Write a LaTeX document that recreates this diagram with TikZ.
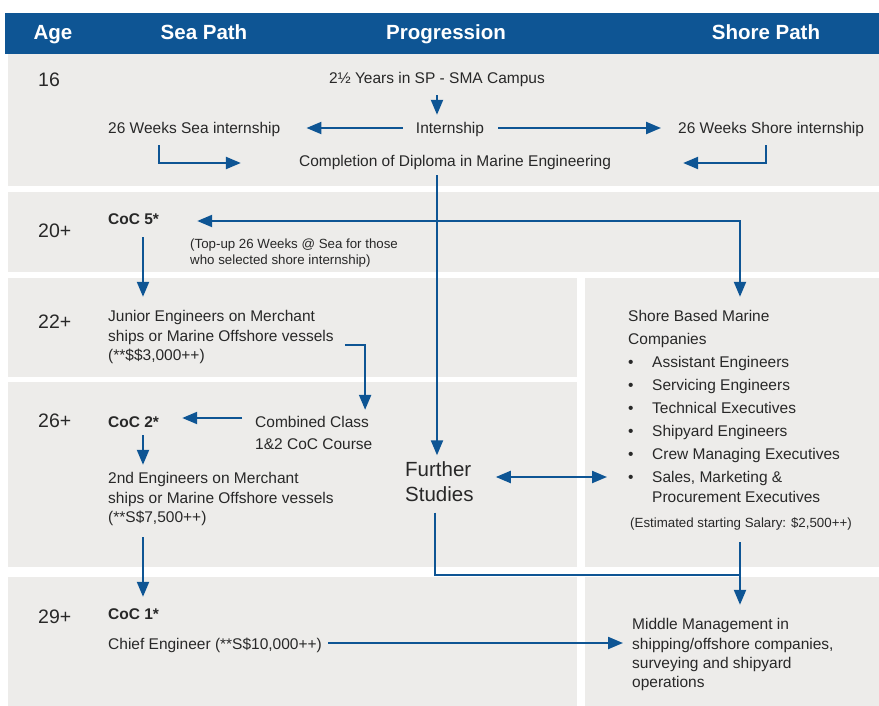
\documentclass[tikz,border=0pt]{standalone}
\usepackage{fontspec}
\setmainfont{Liberation Sans}
\usetikzlibrary{arrows.meta,calc}
\definecolor{hblue}{RGB}{14,85,148}
\definecolor{panelgray}{RGB}{237,236,234}
\definecolor{ink}{RGB}{40,40,40}
\begin{document}
\begin{tikzpicture}[x=1pt,y=-1pt,
  txt/.style={font=\fontsize{15.5}{20}\selectfont, text=ink, inner sep=0pt, anchor=base west, text height=11pt, text depth=3.5pt},
  ctr/.style={txt, anchor=base},
  bld/.style={txt, font=\fontsize{15.5}{20}\selectfont\bfseries},
  sm/.style={txt, font=\fontsize{13.3}{16}\selectfont, text height=9.5pt, text depth=3pt},
  age/.style={font=\fontsize{19.5}{22}\selectfont, text=ink, inner sep=0pt, anchor=base west},
  hdr/.style={font=\fontsize{20.5}{24}\selectfont\bfseries, text=white, inner sep=0pt, anchor=base},
  panel/.style={fill=panelgray, draw=none},
  conn/.style={draw=hblue, line width=2.2pt},
  arr/.style={conn, -{Triangle[length=15pt,width=12pt]}},
  darr/.style={conn, {Triangle[length=15pt,width=12pt]}-{Triangle[length=15pt,width=12pt]}}
]
\useasboundingbox (0,0) rectangle (879,706);
% header
\fill[hblue] (5,13) rectangle (879,54);
\node[hdr] (hage) at (53,39.5) {Age};
\node[hdr] (hsea) at (204,39.5) {Sea Path};
\node[hdr] (hprog) at (446,39.5) {Progression};
\node[hdr] (hshore) at (766,39.5) {Shore Path};
% panels
\fill[panel] (8,54) rectangle (879,186);
\fill[panel] (8,192) rectangle (879,272);
\fill[panel] (8,278) rectangle (577,377);
\fill[panel] (8,382) rectangle (577,567);
\fill[panel] (585,278) rectangle (879,567);
\fill[panel] (8,577) rectangle (577,706);
\fill[panel] (585,577) rectangle (879,706);
% ages
\node[age] (a16) at (38,87) {16};
\node[age] (a20) at (38,237) {20+};
\node[age] (a22) at (38,328) {22+};
\node[age] (a26) at (38,427) {26+};
\node[age] (a29) at (38,623) {29+};
% top panel
\node[ctr] (campus) at (437,84) {2½ Years in SP - SMA Campus};
\node[ctr] (intern) at (450,134) {Internship};
\node[txt] (seaint) at (108,134) {26 Weeks Sea internship};
\node[txt] (shoreint) at (678,134) {26 Weeks Shore internship};
\node[ctr] (diploma) at (455,167) {Completion of Diploma in Marine Engineering};
% 20+
\node[bld] (coc5) at (108,225) {CoC 5*};
\node[sm] (topup1) at (190,248) {(Top-up 26 Weeks @ Sea for those};
\node[sm] (topup2) at (190,264) {who selected shore internship)};
% 22+
\node[txt] (jr1) at (108,321) {Junior Engineers on Merchant};
\node[txt] (jr2) at (108,341) {ships or Marine Offshore vessels};
\node[txt] (jr3) at (108,360) {(**\$\$3,000++)};
% 26+
\node[bld] (coc2) at (108,427) {CoC 2*};
\node[txt] (ccc1) at (255,427) {Combined Class};
\node[txt] (ccc2) at (255,449) {1\&2 CoC Course};
\node[txt] (se1) at (108,483) {2nd Engineers on Merchant};
\node[txt] (se2) at (108,503) {ships or Marine Offshore vessels};
\node[txt] (se3) at (108,522) {(**S\$7,500++)};
\node[font=\fontsize{20.5}{25}\selectfont, text=ink, inner sep=0pt, align=left, anchor=west] (further) at (405,481.5) {Further\\Studies};
% shore panel
\node[txt] (sbm1) at (628,321) {Shore Based Marine};
\node[txt] (sbm2) at (628,344) {Companies};
\node[txt] (b1) at (628,367) {•};
\node[txt] (s1) at (652,367) {Assistant Engineers};
\node[txt] (b2) at (628,390) {•};
\node[txt] (s2) at (652,390) {Servicing Engineers};
\node[txt] (b3) at (628,413) {•};
\node[txt] (s3) at (652,413) {Technical Executives};
\node[txt] (b4) at (628,436) {•};
\node[txt] (s4) at (652,436) {Shipyard Engineers};
\node[txt] (b5) at (628,459) {•};
\node[txt] (s5) at (652,459) {Crew Managing Executives};
\node[txt] (b6) at (628,482) {•};
\node[txt] (s6) at (652,482) {Sales, Marketing \&};
\node[txt] (s7) at (652,502) {Procurement Executives};
\node[sm] (est) at (630,527) {(Estimated starting Salary: \$2,500++)};
% 29+
\node[bld] (coc1) at (108,619) {CoC 1*};
\node[txt] (chief) at (108,649) {Chief Engineer (**S\$10,000++)};
\node[txt] (mm1) at (632,629) {Middle Management in};
\node[txt] (mm2) at (632,649) {shipping/offshore companies,};
\node[txt] (mm3) at (632,668) {surveying and shipyard};
\node[txt] (mm4) at (632,687) {operations};
% helper columns
\coordinate (spine) at (437,0);
\coordinate (shorex) at (740,0);
\coordinate (seax) at (143,0);
\coordinate (fx) at (435,0);
\coordinate (merge) at (740,575);
\coordinate (b6m) at ([yshift=5pt]b6.base west);
% connectors
\draw[arr, shorten <=7.5pt, shorten >=8pt] (campus.south) -- (campus.south |- intern.north);
\draw[arr, shorten <=13pt, shorten >=26pt] ([yshift=6pt]intern.base west) -- ([yshift=6pt]seaint.base east);
\draw[arr, shorten <=14pt, shorten >=17pt] ([yshift=6pt]intern.base east) -- ([yshift=6pt]shoreint.base west);
\draw[arr] ($(seaint.south west)+(51,7.5)$) |- ($(diploma.base west)+(-58,-4)$);
\draw[arr] ($(shoreint.south west)+(88,7.5)$) |- ($(diploma.base east)+(72,-4)$);
\draw[arr, shorten <=4.5pt, shorten >=6pt] (spine |- diploma.south) -- (spine |- further.north);
\draw[darr, shorten <=38pt, shorten >=13pt] ([yshift=4pt]coc5.base east) -| (shorex |- sbm1.north);
\draw[arr, shorten <=8.5pt, shorten >=13pt] (seax |- coc5.south) -- (seax |- jr1.north);
\draw[arr] ([xshift=11pt,yshift=-4pt]jr2.base east) -| ([xshift=-4pt,yshift=6pt]ccc1.north east);
\draw[arr, shorten <=13pt, shorten >=23pt] ([yshift=9pt]ccc1.base west) -- ([yshift=9pt]coc2.base east);
\draw[arr, shorten <=4.5pt, shorten >=7pt] (seax |- coc2.south) -- (seax |- se1.north);
\draw[arr, shorten <=11.5pt, shorten >=11pt] (seax |- se3.south) -- (seax |- coc1.north);
\draw[arr, shorten <=6pt, shorten >=9pt] ([yshift=6pt]chief.base east) -- ([yshift=6pt]mm2.base west);
\draw[darr, shorten <=22pt, shorten >=21pt] (further.east |- b6m) -- (b6m);
\draw[arr, shorten <=12pt, shorten >=13pt] (shorex |- est.south) -- (shorex |- mm1.north);
\draw[conn, shorten <=11pt] (fx |- further.south) |- (merge);
\end{tikzpicture}
\end{document}
